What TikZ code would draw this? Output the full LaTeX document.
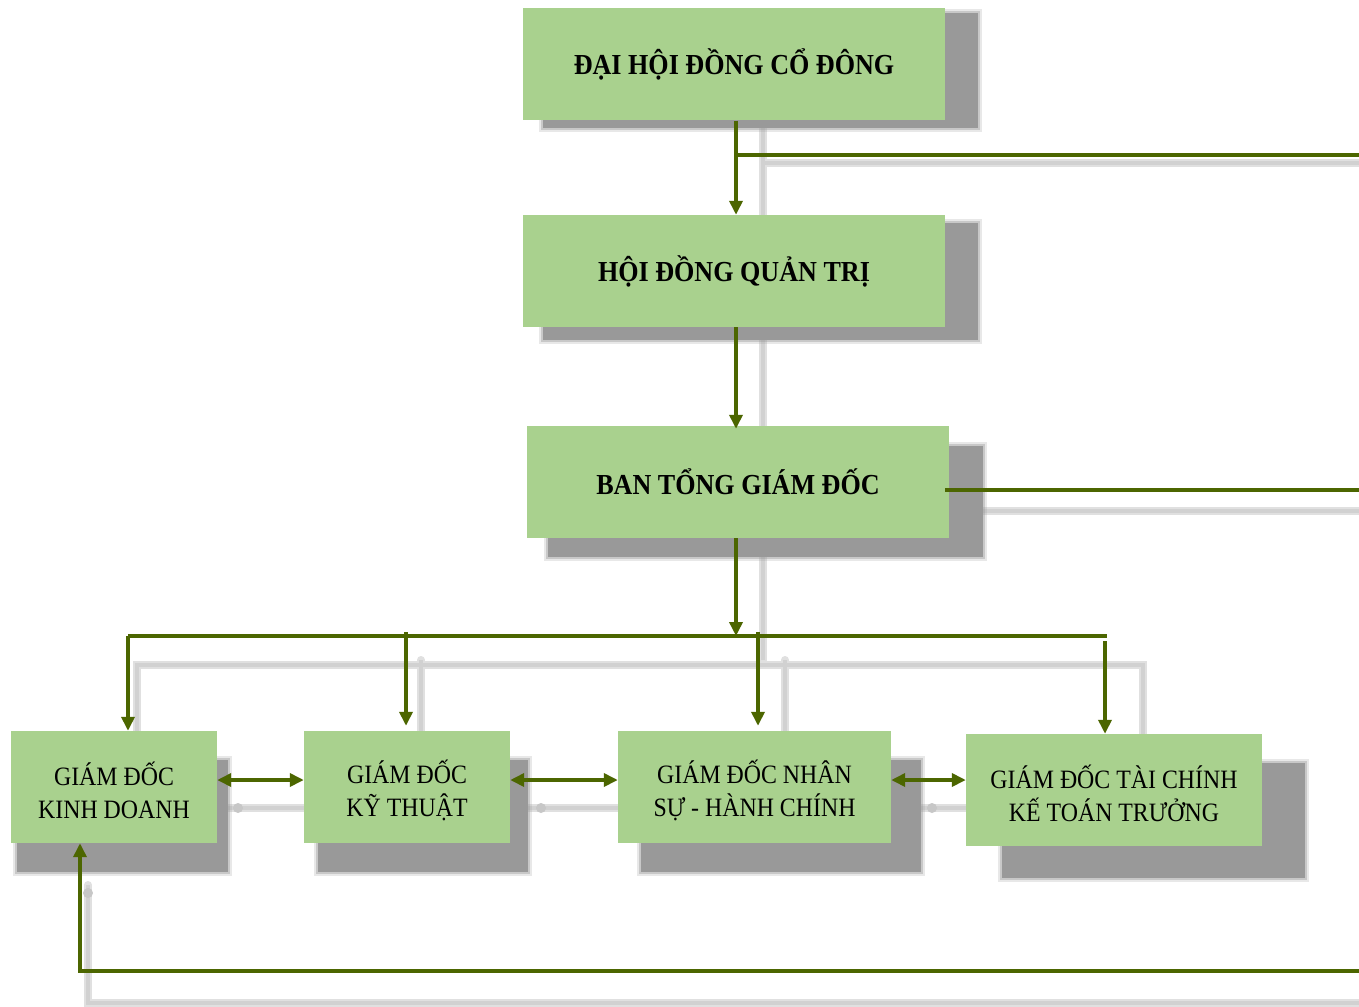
\documentclass[tikz,border=0pt]{standalone}
\usepackage{fontspec}
\setmainfont{Liberation Serif}
\newfontfamily\boxfont[FakeStretch=0.9]{Liberation Serif}
\usetikzlibrary{arrows.meta}
\definecolor{boxfill}{RGB}{169,209,142}
\definecolor{lnk}{RGB}{76,102,0}
\definecolor{shd}{RGB}{153,153,153}
\tikzset{
  topbox/.style={fill=boxfill, draw=none, minimum width=422pt, minimum height=112pt, inner sep=0pt,
     font=\boxfont\bfseries\fontsize{29}{33}\selectfont, align=center},
  subbox/.style={fill=boxfill, draw=none, minimum height=112pt, inner sep=0pt},
  subtext/.style={font=\boxfont\fontsize{26.5}{33}\selectfont, align=center, inner sep=0pt, yshift=-3pt},
  boxshadow/.style={fill=shd, draw=none},
  boxsoftA/.style={draw=shd, line width=8pt, draw opacity=0.22},
  boxsoftB/.style={draw=shd, line width=4pt, draw opacity=0.4},
  lineshadow/.style={draw=black!12, line width=8pt, line cap=round},
  lineshadowcore/.style={draw=black!18, line width=3.5pt},
  link/.style={draw=lnk, line width=3.6pt},
  arr/.style={link, -{Triangle[length=14pt,width=13pt]}},
  darr/.style={link, {Triangle[length=14pt,width=13pt]}-{Triangle[length=14pt,width=13pt]}},
}
\begin{document}
\begin{tikzpicture}[x=1pt,y=-1pt]
\useasboundingbox (0,0) rectangle (1359,1006);
\fill[white] (0,0) rectangle (1359,1006);

% connector shadows
\foreach \s in {lineshadow,lineshadowcore}{
  \draw[\s] (763,128) -- (763,660);
  \draw[\s] (763,163) -- (1365,163);
  \draw[\s] (983,511) -- (1365,511);
  \draw[\s] (137,731) -- (137,665) -- (1143,665) -- (1143,735);
  \draw[\s] (421,660) -- (421,731);
  \draw[\s] (785,660) -- (785,731);
  \draw[\s] (217,808) -- (304,808);
  \draw[\s] (510,808) -- (618,808);
  \draw[\s] (891,808) -- (966,808);
  \draw[\s] (88,885) -- (88,1003) -- (1365,1003);
}
\fill[black!22] (238,808) circle (5pt);
\fill[black!22] (541,808) circle (5pt);
\fill[black!22] (932,808) circle (5pt);
\fill[black!22] (88,893) circle (5pt);

% box shadows (soft edges)
\foreach \a/\b/\c/\d in {543/13/978/128, 543/223/978/340, 548/446/983/557,
    17/760/228/872, 318/760/528/872, 641/760/921/872, 1002/763/1305/878}{
  \draw[boxsoftA] (\a,\b) rectangle (\c,\d);
  \draw[boxsoftB] (\a,\b) rectangle (\c,\d);
  \fill[boxshadow] (\a,\b) rectangle (\c,\d);
}

% boxes
\node[topbox] (dh) at (734,64.5) {ĐẠI HỘI ĐỒNG CỔ ĐÔNG};
\node[topbox] (hd) at (734,271) {HỘI ĐỒNG QUẢN TRỊ};
\node[topbox] (bt) at (738,482) {BAN TỔNG GIÁM ĐỐC};
\node[subbox, minimum width=206pt] (kd) at (114,787) {};
\node[subbox, minimum width=206pt] (kt) at (407,787) {};
\node[subbox, minimum width=273pt] (ns) at (754.5,787) {};
\node[subbox, minimum width=296pt] (tc) at (1114,790) {};
\node[subtext] (kdt) at (kd.center) {GIÁM ĐỐC\\KINH DOANH};
\node[subtext] (ktt0) at (kt.center) {GIÁM ĐỐC\\KỸ THUẬT};
\node[subtext] (nst0) at (ns.center) {GIÁM ĐỐC NHÂN\\SỰ - HÀNH CHÍNH};
\node[subtext] (tct0) at (tc.center) {GIÁM ĐỐC TÀI CHÍNH\\KẾ TOÁN TRƯỞNG};

% coordinates
\coordinate (r1) at (1359,155);
\coordinate (r2) at (1359,490);
\coordinate (r3) at (1359,971);
\coordinate (bus) at (736,636);
\coordinate (busL) at (128,636);
\coordinate (busR) at (1107,636);
\coordinate (h) at (0,780);
\coordinate (ret) at (80,971);
\coordinate (ktt) at (406,632);
\coordinate (nst) at (758,632);
\coordinate (tct) at (1105,641);

% green connectors
\draw[arr] ([xshift=2pt]dh.south) -- ([xshift=2pt]hd.north);
\draw[link] ([xshift=2pt]dh.south |- r1) -- (r1);
\draw[arr] ([xshift=2pt]hd.south) -- ([xshift=-2pt,yshift=-3pt]bt.north);
\draw[link] ([xshift=-4pt]bt.east |- r2) -- (r2);
\draw[arr] ([xshift=-2pt]bt.south) -- (bus);
\draw[link] (busL) -- (busR);
\draw[arr] (busL) -- (busL |- kd.north);
\draw[arr] (ktt) -- ([yshift=5pt]ktt |- kt.north);
\draw[arr] (nst) -- ([yshift=5pt]nst |- ns.north);
\draw[arr] (tct) -- (tct |- tc.north);
\draw[darr] (kd.east |- h) -- (kt.west |- h);
\draw[darr] (kt.east |- h) -- (ns.west |- h);
\draw[darr] (ns.east |- h) -- (tc.west |- h);
\draw[arr] (r3) -- (ret) -- (ret |- kd.south);
\end{tikzpicture}
\end{document}
